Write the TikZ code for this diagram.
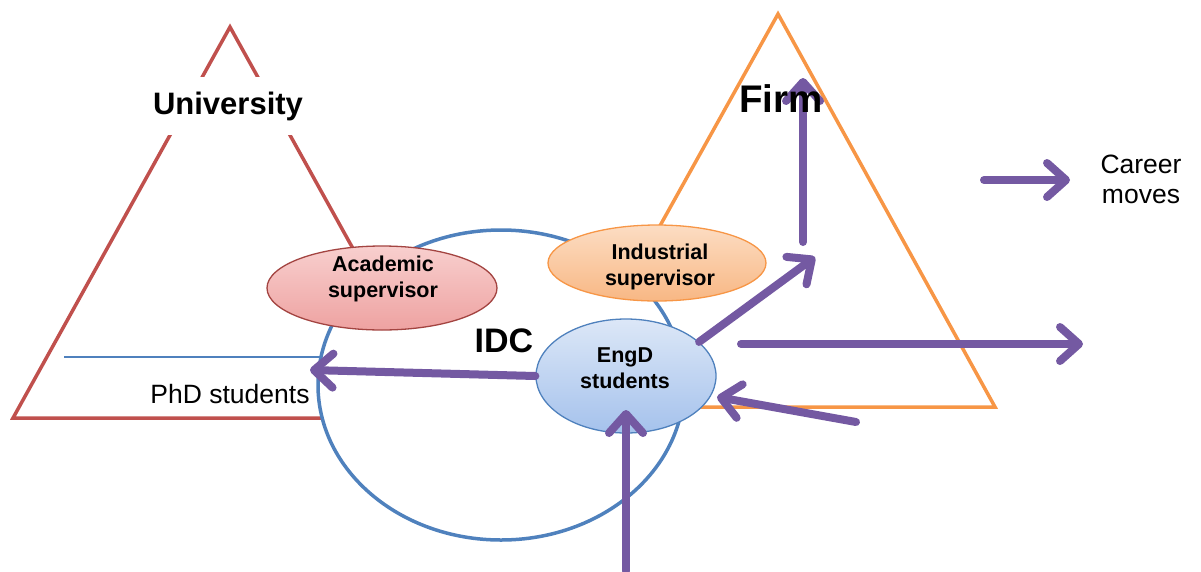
\documentclass[tikz,border=0pt]{standalone}
\usepackage{fontspec}
\setmainfont{Liberation Sans}
\usetikzlibrary{shapes.geometric,arrows.meta}
\definecolor{ured}{HTML}{C0504D}
\definecolor{forange}{HTML}{F79646}
\definecolor{idcblue}{HTML}{4F81BD}
\definecolor{arrpurple}{HTML}{7459A2}
\definecolor{acadtop}{HTML}{F8CFCE}
\definecolor{acadbot}{HTML}{EEA2A1}
\definecolor{indtop}{HTML}{FCDDC3}
\definecolor{indbot}{HTML}{F8B784}
\definecolor{engtop}{HTML}{DCE7F7}
\definecolor{engbot}{HTML}{A5C2EC}
\begin{document}
\begin{tikzpicture}[x=1pt,y=-1pt,
  tri/.style={line width=3.5pt,line join=miter},
  flow/.style={draw=arrpurple,line width=8pt,line cap=round,
    -{Straight Barb[length=19pt,width=34pt,round]}},
  bigbold/.style={font=\fontsize{#1}{#1}\selectfont\bfseries,inner sep=0pt},
  small/.style={font=\fontsize{21.5}{26.5}\selectfont\bfseries,align=center,inner sep=0pt},
  plain/.style={font=\fontsize{26.5}{30}\selectfont,align=center,inner sep=0pt},
  supell/.style={ellipse,line width=1.3pt,inner sep=0pt}
]
\useasboundingbox (0,0) rectangle (1201,571);
% triangles
\coordinate (uA) at (230,27);
\coordinate (uL) at (13,418);
\coordinate (uR) at (447,418);
\draw[tri,draw=ured] (uA) -- (uL) -- (uR) -- cycle;
\coordinate (fA) at (778,14);
\coordinate (fL) at (559,407);
\coordinate (fR) at (995,407);
\draw[tri,draw=forange] (fA) -- (fL) -- (fR) -- cycle;
% PhD line
\coordinate (hl1) at (64,357);
\coordinate (hl2) at (330,357);
\draw[idcblue,line width=1.2pt] (hl1) -- (hl2);
% IDC circle
\node[ellipse,draw=idcblue,fill=white,line width=3.5pt,minimum width=366pt,minimum height=310pt,inner sep=0pt] (idc) at (501,385) {};
% supervisors and students
\node[supell,draw=ured!85!black,top color=acadtop,bottom color=acadbot,minimum width=230pt,minimum height=84pt] (acad) at (382,288) {};
\node[supell,draw=forange,top color=indtop,bottom color=indbot,minimum width=218pt,minimum height=76pt] (ind) at (657,263) {};
\node[supell,draw=idcblue,top color=engtop,bottom color=engbot,minimum width=180pt,minimum height=114pt] (engd) at (626,376) {};
\node[small] (acadtxt) at (383,279) {Academic\\supervisor};
\node[small] (indtxt) at (660,267) {Industrial\\supervisor};
\node[small] (engdtxt) at (625,368) {EngD\\students};
% labels
\node[bigbold=31,fill=white,minimum height=58pt,inner xsep=2pt,anchor=center] (uni) at (228,106) {University};
\node[bigbold=34,anchor=base] (idctxt) at (504,352) {IDC};
\node[plain,anchor=base] (phd) at (230,403) {PhD students};
\node[plain] (career) at (1141,179) {Career\\moves};
% arrows
\coordinate (phdtip) at (310,370);
\draw[flow] (engd.west) -- (phdtip);
\coordinate (upright) at (815,257);
\draw[flow] (engd.25) -- (upright);
\coordinate (vb) at (803,242);
\coordinate (vt) at (803,78);
\draw[flow] (vb) -- (vt);
\coordinate (hs) at (741,344);
\coordinate (he) at (1083,344);
\draw[flow] (hs) -- (he);
\coordinate (ins) at (856,422);
\coordinate (ine) at (717,397);
\draw[flow] (ins) -- (ine);
\coordinate (bs) at (626,571);
\coordinate (be) at (626,410);
\draw[flow] (bs) -- (be);
\coordinate (cs) at (984,180);
\coordinate (ce) at (1070,180);
\draw[flow] (cs) -- (ce);
\node[bigbold=38.5,anchor=base] (firm) at (781,112) {Firm};
\end{tikzpicture}
\end{document}
